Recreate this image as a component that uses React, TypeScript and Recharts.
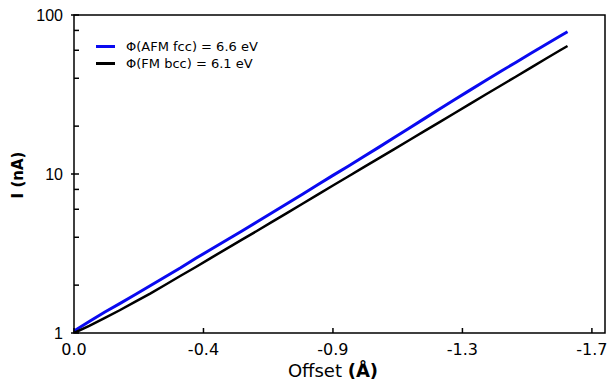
import React from 'react';
import { LineChart, Line, XAxis, YAxis, ReferenceArea } from 'recharts';

const offsets = [
  0, -0.05, -0.1, -0.15, -0.2, -0.25, -0.3, -0.35, -0.4, -0.45, -0.5, -0.55, -0.6, -0.65, -0.7, -0.75, -0.8,
  -0.85, -0.9, -0.95, -1.0, -1.05, -1.1, -1.15, -1.2, -1.25, -1.3, -1.35, -1.4, -1.45, -1.5, -1.55, -1.6, -1.62,
];

// Φ(AFM fcc) = 6.6 eV
const afmFcc = [
  1.03, 1.18, 1.35, 1.53, 1.74, 1.98, 2.26, 2.57, 2.95, 3.36, 3.83, 4.37, 4.99, 5.7, 6.52, 7.45, 8.55,
  9.8, 11.2, 12.85, 14.7, 16.9, 19.4, 22.3, 25.6, 29.4, 33.7, 38.6, 44.1, 50.3, 57.4, 65.5, 74.6, 78.5,
];

// Φ(FM bcc) = 6.1 eV
const fmBcc = [
  1.0, 1.11, 1.24, 1.39, 1.57, 1.77, 2.01, 2.29, 2.6, 2.97, 3.38, 3.85, 4.38, 5.0, 5.7, 6.5, 7.42,
  8.47, 9.65, 11.0, 12.55, 14.3, 16.3, 18.6, 21.2, 24.2, 27.6, 31.5, 35.9, 40.9, 46.7, 53.3, 60.7, 63.8,
];

const xTicks = [0, -0.425, -0.85, -1.275, -1.7];
const xTickLabels = ['0.0', '-0.4', '-0.9', '-1.3', '-1.7'];
const yTicks = [1, 2, 4, 6, 8, 10, 20, 40, 60, 80, 100];
const yMajor = [1, 10, 100];

const data = offsets.map((offset, i) => ({ offset, afm: afmFcc[i], fm: fmBcc[i] }));

const series = [
  { key: 'afm', name: 'Φ(AFM fcc) = 6.6 eV', color: '#0a0af0', width: 3 },
  { key: 'fm', name: 'Φ(FM bcc) = 6.1 eV', color: '#000000', width: 2.5 },
];

const XTick = (props: any) => {
  const { x, y, index } = props;
  return (
    <g>
      <line x1={x} x2={x} y1={y} y2={y - 5} stroke="#000" strokeWidth={1.5} />
      <text x={x} y={y + 22} textAnchor="middle" fontSize={16} fontFamily="DejaVu Sans" fill="#000">
        {xTickLabels[index]}
      </text>
    </g>
  );
};

const YTick = (props: any) => {
  const { x, y, payload } = props;
  const v = payload.value;
  const major = yMajor.includes(v);
  return (
    <g>
      <line x1={major ? x - 3 : x} x2={x + 5} y1={y} y2={y} stroke="#000" strokeWidth={1.5} />
      {major && (
        <text x={x - 11} y={y + 6} textAnchor="end" fontSize={16} fontFamily="Liberation Sans" fill="#000">
          {v}
        </text>
      )}
    </g>
  );
};

const LegendBox = () => (
  <div
    style={{
      position: 'absolute',
      left: 96,
      top: 38,
      fontFamily: 'DejaVu Sans',
      fontSize: 13,
      lineHeight: '17px',
      color: '#000',
      whiteSpace: 'nowrap',
    }}
  >
    {series.map((s) => (
      <div key={s.key} style={{ display: 'flex', alignItems: 'center' }}>
        <span style={{ display: 'inline-block', width: 19, height: 3, background: s.color, marginRight: 11 }} />
        <span>{s.name}</span>
      </div>
    ))}
  </div>
);

export default function App() {
  return (
    <div style={{ position: 'absolute', left: 0, top: 0, width: 607, height: 381, background: '#fff' }}>
      <LineChart width={607} height={381} data={data} margin={{ top: 15, right: 2, bottom: 0, left: 0 }}>
        <XAxis
          dataKey="offset"
          type="number"
          domain={[-1.743, 0]}
          reversed
          ticks={xTicks}
          tick={<XTick />}
          tickSize={0}
          tickMargin={0}
          axisLine={false}
          height={48}
          interval={0}
          label={{
            content: () => (
              <text x={333} y={377} textAnchor="middle" fontSize={18} fontFamily="DejaVu Sans" fill="#000">
                Offset <tspan fontWeight="bold">(Å)</tspan>
              </text>
            ),
          }}
        />
        <YAxis
          type="number"
          scale="log"
          domain={[1, 100]}
          ticks={yTicks}
          tick={<YTick />}
          tickSize={0}
          tickMargin={0}
          axisLine={false}
          width={74}
          interval={0}
          allowDataOverflow
          label={{
            content: () => (
              <text
                x={18}
                y={175}
                transform="rotate(-90 18 175)"
                textAnchor="middle"
                dominantBaseline="central"
                fontSize={15}
                fontWeight="bold"
                fontFamily="DejaVu Sans"
                fill="#000"
              >
                I (nA)
              </text>
            ),
          }}
        />
        <ReferenceArea x1={-1.743} x2={0} y1={1} y2={100} fill="none" stroke="#000" strokeWidth={1.5} />
        {series.map((s) => (
          <Line
            key={s.key}
            dataKey={s.key}
            name={s.name}
            stroke={s.color}
            strokeWidth={s.width}
            dot={false}
            isAnimationActive={false}
            type="linear"
          />
        ))}
      </LineChart>
      <LegendBox />
    </div>
  );
}
